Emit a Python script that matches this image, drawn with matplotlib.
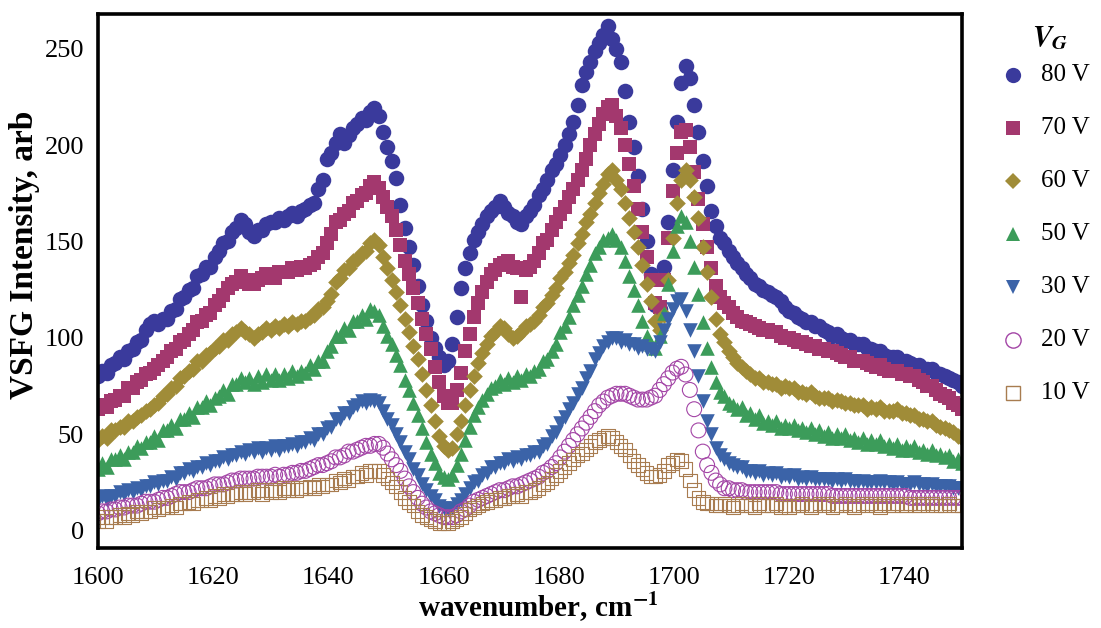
import matplotlib
matplotlib.use("Agg")
import matplotlib.pyplot as plt
import numpy as np
from matplotlib.lines import Line2D

plt.rcParams['font.family'] = ['Liberation Serif', 'DejaVu Serif']
plt.rcParams['mathtext.fontset'] = 'stix'

# wavenumber grid, cm^-1 (0.75 cm^-1 step); each row below covers 3 cm^-1
wavenumber = 1600 + 0.75 * np.arange(201)

v80 = [80, 83, 82, 86, 87, 90, 89, 93, 94, 98, 99, 104,
       107, 109, 107, 110, 110, 114, 115, 120, 121, 125, 126, 132,
       133, 137, 137, 142, 145, 149, 150, 155, 157, 161, 159, 155,
       153, 156, 156, 159, 160, 160, 162, 161, 163, 165, 163, 166,
       167, 169, 170, 177, 182, 193, 196, 201, 206, 201, 205, 209,
       211, 214, 213, 217, 219, 215, 207, 199, 192, 183, 169, 157,
       147, 138, 127, 117, 109, 100, 95, 90, 86, 88, 97, 111,
       126, 136, 144, 151, 155, 159, 163, 166, 168, 171, 168, 165,
       163, 160, 159, 163, 166, 169, 174, 177, 182, 187, 190, 195,
       200, 206, 212, 221, 231, 238, 243, 249, 253, 257, 262, 255,
       250, 243, 228, 212, 199, 184, 167, 150, 133, 117, 115, 137,
       160, 187, 212, 232, 241, 235, 221, 207, 192, 179, 166, 158,
       152, 149, 145, 142, 139, 136, 133, 131, 128, 127, 125, 124,
       122, 121, 119, 116, 114, 113, 111, 110, 108, 108, 106, 106,
       104, 103, 101, 102, 100, 99, 99, 97, 97, 97, 95, 94,
       93, 93, 91, 90, 90, 90, 88, 88, 87, 86, 86, 84,
       84, 84, 82, 81, 80, 79, 78, 77,
       75]

v70 = [63, 65, 64, 67, 68, 70, 70, 74, 74, 77, 78, 81,
       82, 84, 86, 88, 90, 93, 94, 98, 99, 102, 104, 108,
       109, 112, 113, 117, 119, 122, 126, 128, 129, 132, 130, 128,
       128, 130, 131, 133, 133, 131, 134, 134, 134, 136, 135, 137,
       136, 138, 139, 142, 144, 149, 154, 160, 161, 164, 166, 170,
       171, 174, 175, 179, 181, 178, 173, 168, 163, 156, 148, 140,
       133, 126, 118, 110, 102, 94, 85, 77, 70, 66, 66, 73,
       82, 93, 102, 111, 118, 124, 129, 133, 135, 138, 139, 140,
       137, 136, 121, 135, 137, 140, 144, 149, 151, 156, 160, 164,
       168, 173, 177, 182, 187, 193, 200, 206, 211, 216, 220, 221,
       215, 209, 200, 190, 179, 167, 155, 142, 130, 118, 116, 130,
       152, 176, 196, 207, 208, 199, 186, 172, 159, 147, 136, 127,
       121, 118, 116, 113, 111, 109, 108, 107, 106, 105, 104, 104,
       103, 103, 101, 100, 100, 99, 98, 98, 97, 96, 96, 94,
       94, 93, 93, 92, 91, 90, 90, 88, 88, 88, 87, 86,
       85, 86, 84, 83, 83, 83, 81, 81, 80, 80, 78, 77,
       75, 75, 73, 71, 70, 69, 66, 65,
       63]

v60 = [47, 49, 48, 52, 52, 54, 54, 57, 57, 59, 60, 62,
       63, 65, 66, 70, 71, 74, 75, 79, 80, 83, 84, 88,
       88, 91, 92, 95, 96, 99, 99, 102, 103, 105, 103, 102,
       100, 102, 103, 105, 104, 106, 105, 107, 106, 108, 107, 109,
       109, 111, 112, 115, 116, 119, 123, 129, 131, 135, 136, 140,
       141, 144, 145, 149, 151, 148, 142, 136, 130, 124, 117, 110,
       103, 96, 89, 81, 73, 65, 57, 49, 44, 42, 43, 50,
       57, 65, 73, 80, 87, 92, 97, 101, 103, 106, 105, 102,
       100, 101, 103, 106, 107, 109, 112, 116, 118, 122, 126, 131,
       134, 139, 143, 149, 154, 160, 164, 170, 175, 180, 185, 187,
       182, 177, 170, 162, 155, 147, 138, 128, 119, 109, 104, 112,
       130, 152, 170, 182, 187, 182, 173, 162, 147, 134, 121, 110,
       102, 98, 93, 90, 87, 85, 83, 81, 79, 79, 77, 77,
       76, 76, 74, 75, 74, 74, 72, 72, 71, 72, 70, 69,
       69, 69, 67, 68, 67, 66, 66, 65, 65, 65, 63, 64,
       63, 64, 62, 62, 62, 63, 61, 61, 60, 60, 58, 58,
       57, 57, 55, 54, 53, 52, 51, 49,
       48]

v50 = [32, 35, 33, 37, 37, 39, 37, 41, 41, 44, 43, 46,
       46, 49, 47, 52, 52, 55, 53, 58, 58, 61, 59, 64,
       64, 67, 65, 69, 70, 73, 71, 76, 76, 79, 77, 79,
       76, 80, 77, 81, 78, 81, 78, 81, 79, 83, 80, 83,
       82, 86, 84, 88, 88, 93, 96, 101, 101, 105, 104, 109,
       109, 112, 110, 115, 114, 112, 106, 101, 97, 91, 86, 78,
       73, 66, 60, 53, 46, 40, 35, 30, 28, 27, 29, 34,
       40, 47, 54, 60, 64, 68, 71, 74, 75, 78, 76, 79,
       77, 80, 78, 81, 80, 83, 84, 88, 89, 93, 97, 103,
       106, 111, 117, 122, 127, 133, 138, 144, 147, 151, 152, 154,
       151, 147, 140, 132, 125, 117, 109, 101, 97, 95, 101, 113,
       128, 145, 158, 163, 160, 150, 137, 123, 108, 95, 85, 77,
       72, 70, 66, 65, 63, 64, 60, 61, 58, 60, 56, 57,
       55, 57, 53, 55, 53, 55, 52, 53, 51, 53, 50, 52,
       49, 51, 48, 50, 48, 50, 47, 48, 46, 48, 45, 47,
       45, 47, 44, 45, 43, 45, 42, 44, 42, 44, 41, 42,
       40, 42, 39, 40, 38, 39, 36, 37,
       35]

v30 = [16, 18, 16, 18, 18, 20, 19, 21, 20, 22, 21, 23,
       23, 25, 24, 26, 26, 28, 27, 30, 30, 32, 31, 33,
       33, 35, 34, 36, 36, 38, 37, 39, 39, 41, 40, 42,
       41, 43, 41, 43, 42, 44, 42, 44, 44, 45, 44, 46,
       46, 48, 47, 50, 50, 53, 54, 58, 58, 61, 61, 64,
       65, 67, 66, 68, 67, 66, 62, 58, 55, 50, 46, 41,
       37, 32, 29, 24, 21, 18, 16, 13, 12, 11, 12, 14,
       16, 19, 22, 25, 26, 29, 30, 33, 33, 35, 35, 37,
       36, 38, 37, 39, 39, 41, 41, 44, 45, 49, 51, 56,
       59, 63, 66, 71, 74, 79, 83, 89, 92, 96, 98, 100,
       100, 98, 99, 97, 97, 95, 96, 94, 94, 93, 98, 104,
       110, 115, 119, 120, 114, 104, 93, 80, 67, 57, 50, 43,
       39, 37, 35, 34, 33, 33, 31, 31, 30, 31, 29, 30,
       29, 30, 28, 29, 28, 29, 27, 28, 27, 28, 27, 27,
       27, 27, 26, 27, 26, 27, 26, 26, 25, 26, 25, 25,
       25, 26, 25, 25, 24, 25, 24, 24, 24, 25, 24, 24,
       23, 24, 23, 23, 23, 23, 22, 22,
       22]

v20 = [9, 10, 10, 11, 11, 12, 12, 13, 13, 13, 14, 15,
       15, 15, 16, 17, 17, 18, 19, 20, 20, 20, 21, 22,
       22, 22, 23, 24, 24, 24, 25, 26, 26, 27, 27, 27,
       27, 28, 28, 28, 28, 29, 28, 29, 29, 30, 30, 31,
       31, 32, 33, 34, 34, 35, 36, 38, 38, 39, 41, 41,
       42, 43, 44, 44, 45, 45, 43, 40, 37, 34, 31, 27,
       23, 20, 17, 14, 12, 10, 9, 8, 7, 7, 7, 8,
       10, 11, 13, 15, 16, 17, 18, 19, 20, 21, 21, 22,
       23, 23, 24, 25, 26, 27, 28, 30, 31, 33, 35, 38,
       41, 44, 47, 50, 53, 56, 59, 62, 65, 67, 69, 70,
       71, 71, 71, 70, 69, 68, 68, 68, 69, 70, 73, 76,
       79, 82, 84, 85, 81, 73, 63, 52, 41, 34, 30, 26,
       24, 22, 22, 21, 21, 21, 20, 20, 20, 20, 20, 20,
       20, 20, 19, 19, 19, 19, 19, 19, 19, 19, 19, 19,
       19, 19, 18, 18, 18, 18, 18, 18, 18, 18, 18, 18,
       18, 18, 18, 18, 18, 18, 18, 18, 17, 17, 17, 17,
       17, 17, 17, 17, 17, 17, 17, 17,
       17]

v10 = [5, 7, 5, 7, 7, 8, 7, 9, 8, 10, 9, 10,
       10, 12, 11, 12, 12, 13, 12, 14, 14, 15, 14, 16,
       16, 17, 16, 18, 17, 19, 18, 19, 19, 20, 19, 20,
       20, 21, 19, 21, 20, 21, 20, 22, 21, 22, 21, 22,
       22, 23, 22, 24, 23, 24, 24, 26, 25, 27, 26, 28,
       28, 30, 29, 31, 31, 31, 29, 27, 25, 23, 20, 17,
       15, 13, 10, 8, 7, 6, 5, 4, 4, 4, 5, 6,
       7, 9, 11, 12, 13, 14, 15, 16, 16, 17, 17, 18,
       18, 19, 18, 20, 20, 21, 22, 24, 25, 27, 29, 31,
       33, 35, 37, 39, 40, 42, 44, 46, 47, 48, 49, 48,
       46, 44, 42, 39, 36, 34, 32, 30, 28, 28, 29, 31,
       34, 35, 37, 36, 32, 26, 21, 17, 15, 14, 14, 13,
       13, 14, 13, 12, 13, 14, 13, 13, 12, 14, 13, 13,
       13, 14, 12, 13, 12, 13, 13, 14, 13, 12, 13, 14,
       13, 14, 12, 13, 13, 14, 13, 12, 13, 14, 13, 14,
       13, 12, 14, 13, 13, 14, 13, 13, 14, 13, 13, 14,
       13, 14, 13, 13, 13, 14, 13, 13,
       13]

labels = ["80 V", "70 V", "60 V", "50 V", "30 V", "20 V", "10 V"]
series = [v80, v70, v60, v50, v30, v20, v10]
for name, s in zip(labels, series):
    if len(s) != len(wavenumber):
        raise ValueError(f"{name}: {len(s)} values")

colors = ["#3a3a9c", "#a3386e", "#a08c38", "#3c9c5a", "#3b63a8", "#a345a6", "#a87c50"]
markers = ["o", "s", "D", "^", "v", "o", "s"]
sizes = [125, 92, 72, 110, 110, 115, 95]
filled = [True, True, True, True, True, False, False]

fig = plt.figure(figsize=(11.01, 6.28), dpi=100)
ax = fig.add_axes([98 / 1101, 80 / 628, 864 / 1101, 534 / 628])

for y, c, m, s, f in zip(series, colors, markers, sizes, filled):
    if f:
        ax.scatter(wavenumber, y, s=s, marker=m, color=c, linewidths=0, zorder=2)
    else:
        ax.scatter(wavenumber, y, s=s, marker=m, facecolors='none', edgecolors=c,
                   linewidths=0.8, zorder=2)

ax.set_xlim(1600, 1750)
ax.set_ylim(-9, 268)
ax.set_xticks(np.arange(1600, 1741, 20))
ax.set_yticks(np.arange(0, 251, 50))
ax.tick_params(length=0, labelsize=19)
ax.tick_params(axis='x', pad=14)
ax.tick_params(axis='y', pad=10)
for sp in ax.spines.values():
    sp.set_linewidth(2.6)

ax.set_xlabel(r'wavenumber, cm$^{\mathbf{-1}}$', fontsize=21, fontweight='bold')
ax.xaxis.set_label_coords((538 - 98) / 864, (548 - 591) / 534)
ax.set_ylabel('VSFG Intensity, arb', fontsize=24, fontweight='bold')
ax.yaxis.set_label_coords((40 - 98) / 864, (548 - 255) / 534)

# legend block to the right of the axes
fig.text(1050 / 1101, 1 - 38 / 628, r'$\mathbfit{V}_{\mathbfit{G}}$', fontsize=21,
         ha='center', va='center')
legend_ms = {"o": 11, "s": 9.5, "D": 8, "^": 10.5, "v": 10.5}
for i, (lab, c, m, f) in enumerate(zip(labels, colors, markers, filled)):
    yf = 1 - (75 + 53 * i) / 628
    if f:
        h = Line2D([1013 / 1101], [yf], transform=fig.transFigure, linestyle='none',
                   marker=m, markersize=legend_ms[m], markerfacecolor=c, markeredgewidth=0)
    else:
        h = Line2D([1013 / 1101], [yf], transform=fig.transFigure, linestyle='none',
                   marker=m, markersize=legend_ms[m], markerfacecolor='none',
                   markeredgecolor=c, markeredgewidth=1.0)
    fig.add_artist(h)
    fig.text(1041 / 1101, yf, lab, fontsize=18, ha='left', va='center')

fig.savefig("out.png", dpi=100)
